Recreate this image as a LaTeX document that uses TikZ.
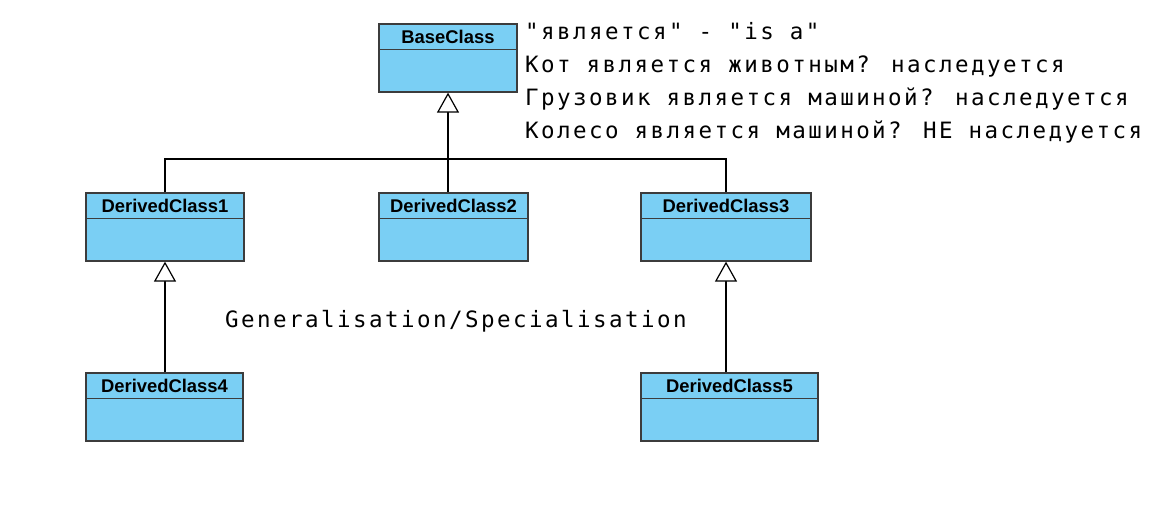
\documentclass[tikz,border=0pt]{standalone}
\usepackage{fontspec}
\setmainfont{Liberation Sans}
\newfontfamily\notefont[LetterSpace=10.9]{DejaVu Sans Mono}
\usepackage{xcolor}
\definecolor{umlblue}{HTML}{7ACFF4}
\definecolor{umledge}{HTML}{3C3C3C}
\usepackage{tikz}
\usetikzlibrary{arrows.meta, positioning}
\tikzset{
  cbox/.style ={rectangle, draw=umledge, line width=1.3pt, fill=umlblue, minimum height=68pt, inner sep=0pt},
  cname/.style={font=\fontsize{18.4}{20}\selectfont\bfseries, anchor=base, inner sep=0pt},
  csep/.style ={draw=umledge, line width=1.3pt},
  inh/.style  ={-{Triangle[length=20pt, width=22pt, fill=white, line width=1.2pt]}, line width=1.2pt, color=black},
  link/.style ={line width=1.2pt, color=black},
  note/.style ={font=\notefont\fontsize{22.5}{26}\selectfont, anchor=base west, inner sep=0pt},
}
\begin{document}
\begin{tikzpicture}[x=1pt, y=-1pt]
  \useasboundingbox[fill=white] (0,0) rectangle (1164,518);
  \foreach \nm/\lbl/\cx/\cy/\w in {bc/BaseClass/448/58/138, dc1/DerivedClass1/165/227/158,
      dc2/DerivedClass2/453.5/227/149, dc3/DerivedClass3/726/227/170,
      dc4/DerivedClass4/164.5/407/157, dc5/DerivedClass5/729.5/407/177}{
    \node[cbox, minimum width={\w pt}] (\nm) at (\cx,\cy) {};
    \draw[csep] ([yshift=-26pt]\nm.north west) -- ([yshift=-26pt]\nm.north east);
    \node[cname] (\nm-t) at ([yshift=-20pt]\nm.north) {\lbl};
  }
  \coordinate (hub) at (448,159);
  \draw[link] (dc1.north) |- (hub) -| (dc3.north);
  \draw[link] (hub) -- (hub |- dc2.north);
  \draw[inh, line width=2.8pt] (hub) -- (bc.south);
  \draw[inh] (dc1.south |- dc4.north) -- (dc1.south);
  \draw[inh] (dc3.south |- dc5.north) -- (dc3.south);
  \node[note] (n1) at (525,40) {"является" - "is a"};
  \node[note] (n2) at (525,73) {Кот является животным? наследуется};
  \node[note] (n3) at (525,106) {Грузовик является машиной? наследуется};
  \node[note] (n4) at (525,139) {Колесо является машиной? НЕ наследуется};
  \node[note] (gs) at (225,328) {Generalisation/Specialisation};
\end{tikzpicture}
\end{document}
